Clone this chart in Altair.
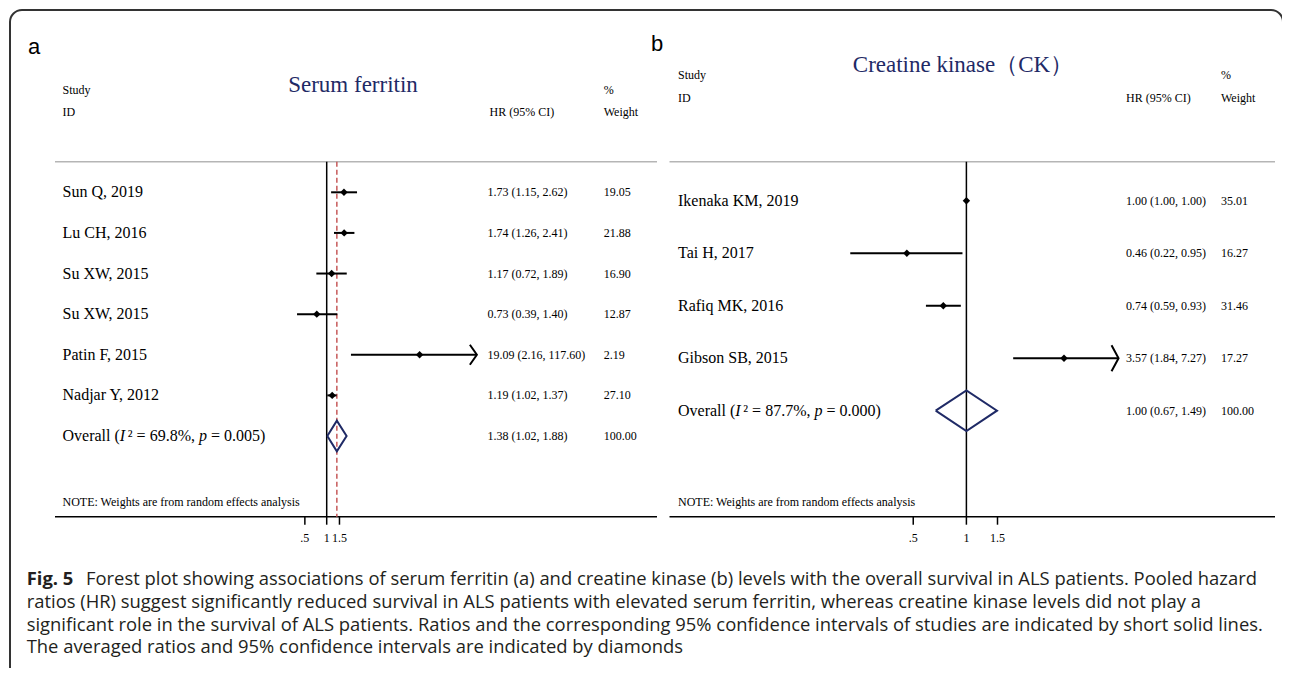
import math
import altair as alt
import pandas as pd

# ---------------- data ----------------
# Panel a: serum ferritin
a_study = ["Sun Q, 2019", "Lu CH, 2016", "Su XW, 2015", "Su XW, 2015", "Patin F, 2015", "Nadjar Y, 2012"]
a_hr = [1.73, 1.74, 1.17, 0.73, 19.09, 1.19]
a_lo = [1.15, 1.26, 0.72, 0.39, 2.16, 1.02]
a_hi = [2.62, 2.41, 1.89, 1.40, 117.60, 1.37]
a_weight = [19.05, 21.88, 16.90, 12.87, 2.19, 27.10]
a_overall = [1.38, 1.02, 1.88]      # HR, lower, upper
a_overall_i2 = "69.8%"
a_overall_p = "0.005"
a_overall_weight = 100.00

# Panel b: creatine kinase
b_study = ["Ikenaka KM, 2019", "Tai H, 2017", "Rafiq MK, 2016", "Gibson SB, 2015"]
b_hr = [1.00, 0.46, 0.74, 3.57]
b_lo = [1.00, 0.22, 0.59, 1.84]
b_hi = [1.00, 0.95, 0.93, 7.27]
b_weight = [35.01, 16.27, 31.46, 17.27]
b_overall = [1.00, 0.67, 1.49]
b_overall_i2 = "87.7%"
b_overall_p = "0.000"
b_overall_weight = 100.00

axis_ticks = [0.5, 1, 1.5]
ARROW_ABOVE = 5  # CIs whose upper limit is beyond this are drawn with an arrow

caption_bold = "Fig. 5"
caption_lines = [
    "Forest plot showing associations of serum ferritin (a) and creatine kinase (b) levels with the overall survival in ALS patients. Pooled hazard",
    "ratios (HR) suggest significantly reduced survival in ALS patients with elevated serum ferritin, whereas creatine kinase levels did not play a",
    "significant role in the survival of ALS patients. Ratios and the corresponding 95% confidence intervals of studies are indicated by short solid lines.",
    "The averaged ratios and 95% confidence intervals are indicated by diamonds",
]

# ---------------- styling / layout ----------------
W, H = 1274, 660
SERIF = "Liberation Serif"
SANS = "Liberation Sans"
CAPFONT = "Open Sans"
CAPSIZE = 18.4
NAVY = "#1f2a66"
RED = "#c65a5a"
ROWSIZE = 16

# Times/Liberation Serif advance widths (em) used to place the italic pieces of the Overall label
TIMES_W = {"O": .722, "v": .5, "e": .444, "r": .333, "a": .444, "l": .278, " ": .25, "(": .333,
           ")": .333, "²": .3, "=": .564, ".": .25, "%": .833, ",": .25}
for d in "0123456789":
    TIMES_W[d] = .5


def tw(s, size):
    return sum(TIMES_W.get(ch, .5) for ch in s) * size


def one_row():
    return pd.DataFrame({"k": [0]})


def label(text, x, y, size=12, font=SERIF, color="black", align="left", weight="normal"):
    return alt.Chart(one_row()).mark_text(
        text=text, font=font, fontSize=size, color=color, align=align,
        baseline="middle", fontWeight=weight
    ).encode(x=alt.value(x), y=alt.value(y))


def panel(study, hr, lo, hi, weight, ov_i2, ov_p, ov, ov_weight, g, title, letter, ref_line):
    n = len(study)
    tbl = pd.DataFrame({
        "row": list(range(n + 1)),
        "hr": hr + [ov[0]],
        "lo": lo + [ov[1]],
        "hi": hi + [ov[2]],
        "weight": weight + [ov_weight],
    })
    tbl["ci"] = [f"{h:.2f} ({l:.2f}, {u:.2f})" for h, l, u in zip(tbl.hr, tbl.lo, tbl.hi)]
    tbl["wtxt"] = [f"{w:.2f}" for w in tbl.weight]
    studies = tbl.iloc[:n].copy()
    studies["study"] = study

    c, k = g["x1"], g["k"]
    r0, r1 = g["xr"]
    xs = alt.Scale(type="log", domain=[math.exp((r0 - c) / k), math.exp((r1 - c) / k)],
                   range=[r0, r1], nice=False)
    ys = alt.Scale(domain=[0, n], range=[g["y0"], g["yn"]], nice=False, zero=False)
    ay = g["axis_y"]

    layers = []
    # header texts
    layers.append(label(letter, g["letter"][0], g["letter"][1], size=22, font=SANS))
    layers.append(label(title, g["title"][0], g["title"][1], size=23, color=NAVY, align="center"))
    layers.append(label("Study", g["tx_study"], g["hdr1"]))
    layers.append(label("ID", g["tx_study"], g["hdr2"]))
    layers.append(label("HR (95% CI)", g["tx_ci_hdr"], g["hdr2"]))
    layers.append(label("%", g["tx_w"], g["hdr1"]))
    layers.append(label("Weight", g["tx_w"], g["hdr2"]))
    layers.append(label("NOTE: Weights are from random effects analysis", g["tx_study"], g["note_y"]))

    # top separator and axis line
    layers.append(alt.Chart(one_row()).mark_rule(color="#b5b5b5", strokeWidth=1.5).encode(
        x=alt.value(r0), x2=alt.value(r1), y=alt.value(g["top"])))
    layers.append(alt.Chart(one_row()).mark_rule(color="black", strokeWidth=1.5).encode(
        x=alt.value(r0), x2=alt.value(r1), y=alt.value(ay)))

    # axis ticks and labels through the x scale
    tk = pd.DataFrame({"t": axis_ticks})
    tk["lab"] = [f"{t:g}".lstrip("0") for t in axis_ticks]
    layers.append(alt.Chart(tk).mark_rule(color="black", strokeWidth=1.5).encode(
        x=alt.X("t:Q", scale=xs, axis=None), y=alt.value(ay), y2=alt.value(ay + 8)))
    layers.append(alt.Chart(tk).mark_text(font=SERIF, fontSize=12, color="black", align="center",
                                          baseline="middle").encode(
        x=alt.X("t:Q", scale=xs, axis=None), y=alt.value(ay + 21.5), text="lab:N"))

    # null line
    layers.append(alt.Chart(pd.DataFrame({"ref": [1.0]})).mark_rule(color="black", strokeWidth=1.5).encode(
        x=alt.X("ref:Q", scale=xs, axis=None), y=alt.value(g["top"]), y2=alt.value(ay)))

    if ref_line:
        layers.append(alt.Chart(pd.DataFrame({"v": [ov[0]]})).mark_rule(
            color=RED, strokeWidth=1.5, strokeDash=[5, 3]).encode(
            x=alt.X("v:Q", scale=xs, axis=None), y=alt.value(g["top"]), y2=alt.value(ay)))

    # confidence intervals
    layers.append(alt.Chart(studies).mark_rule(color="black", strokeWidth=2).encode(
        x=alt.X("lo:Q", scale=xs, axis=None), x2="hi:Q",
        y=alt.Y("row:Q", scale=ys, axis=None)))
    # arrows for truncated CIs
    layers.append(alt.Chart(studies).transform_filter(f"datum.hi > {ARROW_ABOVE}").mark_point(
        shape=g["arrow_path"], filled=False, color="black", strokeWidth=2, size=g["arrow_size"],
        opacity=1).encode(
        x=alt.X("hi:Q", scale=xs, axis=None), y=alt.Y("row:Q", scale=ys, axis=None)))
    # point estimates
    layers.append(alt.Chart(studies).mark_point(
        shape="diamond", filled=True, color="black", size=55, opacity=1).encode(
        x=alt.X("hr:Q", scale=xs, axis=None), y=alt.Y("row:Q", scale=ys, axis=None)))

    # overall diamond
    hh = g["dia_h"]
    dia = pd.DataFrame({
        "x": [ov[1], ov[0], ov[2], ov[0], ov[1]],
        "y": [n, n - hh, n, n + hh, n],
        "o": [0, 1, 2, 3, 4],
    })
    layers.append(alt.Chart(dia).mark_line(color=NAVY, strokeWidth=2).encode(
        x=alt.X("x:Q", scale=xs, axis=None), y=alt.Y("y:Q", scale=ys, axis=None), order="o:Q"))

    # table columns
    layers.append(alt.Chart(studies).mark_text(align="left", baseline="middle", font=SERIF,
                                               fontSize=ROWSIZE, color="black").encode(
        x=alt.value(g["tx_study"]), y=alt.Y("row:Q", scale=ys, axis=None), text="study:N"))
    layers.append(alt.Chart(tbl).mark_text(align="left", baseline="middle", font=SERIF, fontSize=12,
                                           color="black").encode(
        x=alt.value(g["tx_ci"]), y=alt.Y("row:Q", scale=ys, axis=None), text="ci:N"))
    layers.append(alt.Chart(tbl).mark_text(align="left", baseline="middle", font=SERIF, fontSize=12,
                                           color="black").encode(
        x=alt.value(g["tx_w"]), y=alt.Y("row:Q", scale=ys, axis=None), text="wtxt:N"))

    # Overall label with italic I and p, placed piece by piece on the overall row
    pieces = [("Overall (", "normal"), ("I", "italic"), (f"² = {ov_i2},", "normal"),
              ("p", "italic"), (f"= {ov_p})", "normal")]
    x = g["tx_study"]
    sp = TIMES_W[" "] * ROWSIZE
    ov_row = pd.DataFrame({"row": [n]})
    for i, (txt, style) in enumerate(pieces):
        layers.append(alt.Chart(ov_row).mark_text(
            text=txt, align="left", baseline="middle", font=SERIF, fontSize=ROWSIZE,
            fontStyle=style, color="black").encode(
            x=alt.value(x), y=alt.Y("row:Q", scale=ys, axis=None)))
        x += tw(txt, ROWSIZE)
        if i in (2, 3):
            x += sp
    return alt.layer(*layers)


geo_a = dict(x1=318.7, k=31.5, xr=[47, 649], y0=184.3, yn=428.0, top=153.7, axis_y=508.7,
             tx_study=54.5, tx_ci=479.6, tx_ci_hdr=481.6, tx_w=595.7,
             letter=(20, 39), title=(345, 77), hdr1=82, hdr2=103.7, note_y=493.7,
             dia_h=0.377, arrow_path="M -0.7 -1 L 0 0 L -0.7 1", arrow_size=400)
geo_b = dict(x1=958.4, k=76.7, xr=[661.5, 1267], y0=192.7, yn=402.7, top=153.7, axis_y=508.7,
             tx_study=670, tx_ci=1118, tx_ci_hdr=1118, tx_w=1213,
             letter=(643, 36), title=(955, 57), hdr1=67, hdr2=90.3, note_y=493.7,
             dia_h=0.387, arrow_path="M -0.54 -1 L 0 0 L -0.54 1", arrow_size=676)

pa = panel(a_study, a_hr, a_lo, a_hi, a_weight, a_overall_i2, a_overall_p, a_overall, a_overall_weight,
           geo_a, "Serum ferritin", "a", True)
pb = panel(b_study, b_hr, b_lo, b_hi, b_weight, b_overall_i2, b_overall_p, b_overall, b_overall_weight,
           geo_b, "Creatine kinase（CK）", "b", False)

frame = alt.Chart(one_row()).mark_rect(cornerRadius=12, stroke="#333333", strokeWidth=2,
                                       fill="white", fillOpacity=0).encode(
    x=alt.value(2), x2=alt.value(1275), y=alt.value(2), y2=alt.value(690))

cap_layers = [label(caption_bold, 18.7, 571, size=CAPSIZE, font=CAPFONT, color="#231f20", weight="bold"),
              label(caption_lines[0], 78, 571, size=CAPSIZE, font=CAPFONT, color="#231f20")]
for i, line in enumerate(caption_lines[1:]):
    cap_layers.append(label(line, 18.7, 594 + 22.7 * i, size=CAPSIZE, font=CAPFONT, color="#231f20"))

chart = alt.layer(frame, pa, pb, *cap_layers).resolve_scale(
    x="independent", y="independent"
).properties(
    width=W, height=H, padding=0, background="white",
    autosize=alt.AutoSizeParams(type="none"),
).configure_view(stroke="transparent")

chart.save("out.html", embed_options={"renderer": "svg", "actions": False})
